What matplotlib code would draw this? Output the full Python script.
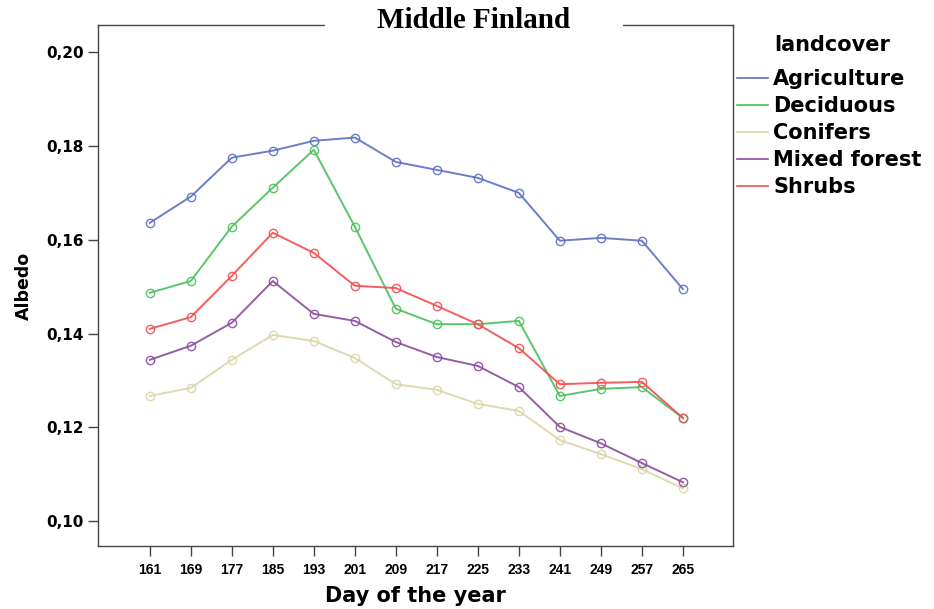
import matplotlib
matplotlib.use("Agg")
import matplotlib.pyplot as plt
from matplotlib.ticker import FuncFormatter

# albedo by day of year for each land cover class
days = [161, 169, 177, 185, 193, 201, 209, 217, 225, 233, 241, 249, 257, 265]

agriculture = [0.1636, 0.1692, 0.1775, 0.1790, 0.1811, 0.1818, 0.1766,
               0.1749, 0.1732, 0.1700, 0.1598, 0.1604, 0.1598, 0.1495]
deciduous = [0.1487, 0.1512, 0.1628, 0.1711, 0.1792, 0.1628, 0.1453,
             0.1420, 0.1420, 0.1427, 0.1267, 0.1282, 0.1286, 0.1220]
conifers = [0.1267, 0.1284, 0.1344, 0.1397, 0.1384, 0.1348, 0.1292,
            0.1280, 0.1250, 0.1235, 0.1173, 0.1143, 0.1111, 0.1070]
mixed_forest = [0.1344, 0.1374, 0.1423, 0.1512, 0.1442, 0.1427, 0.1382,
                0.1350, 0.1331, 0.1286, 0.1201, 0.1166, 0.1124, 0.1083]
shrubs = [0.1410, 0.1435, 0.1523, 0.1615, 0.1572, 0.1502, 0.1497,
          0.1459, 0.1420, 0.1369, 0.1292, 0.1295, 0.1297, 0.1220]

labels = ["Agriculture", "Deciduous", "Conifers", "Mixed forest", "Shrubs"]
series = [agriculture, deciduous, conifers, mixed_forest, shrubs]
colors = ["#5b70c4", "#48c05a", "#dbd5a6", "#8a4c9c", "#f24e50"]

fig = plt.figure(figsize=(9.34, 6.09), dpi=100)
ax = fig.add_axes([0.1049, 0.1034, 0.68, 0.8556])

handles = []
for vals, col, lab in zip(series, colors, labels):
    ax.plot(days, vals, color=col, lw=1.4, alpha=0.9, marker="o", ms=6,
            mfc="none", mec=col, mew=1.0)
    h, = ax.plot([], [], color=col, lw=1.2, label=lab)
    handles.append(h)

ax.set_xlim(150.9, 274.8)
ax.set_ylim(0.0947, 0.2058)
ax.set_xticks(days)
ax.set_yticks([0.10, 0.12, 0.14, 0.16, 0.18, 0.20])
ax.yaxis.set_major_formatter(FuncFormatter(lambda v, p: f"{v:.2f}".replace(".", ",")))

for s in ax.spines.values():
    s.set_color("#444444")
    s.set_linewidth(1.0)
ax.tick_params(axis="both", direction="out", length=7, width=1.0, color="#444444")
ax.tick_params(axis="x", pad=5)
for t in ax.get_xticklabels():
    t.set_fontweight("bold")
    t.set_fontsize(10)
    t.set_family("Liberation Sans")
for t in ax.get_yticklabels():
    t.set_fontweight("bold")
    t.set_fontsize(11)
    t.set_family("DejaVu Sans")

ax.set_xlabel("Day of the year", fontsize=15, fontweight="bold",
              family="DejaVu Sans", labelpad=7)
ax.set_ylabel("Albedo", fontsize=12.5, fontweight="bold",
              family="DejaVu Sans", labelpad=9)

# title sits on the top border, with a gap cut out of the border behind it
fig.text(0.5075, 0.967, "Middle Finland", ha="center", va="center",
         fontsize=21, fontweight="bold", family="Liberation Serif")
ax.plot([0.361, 0.824], [1, 1], transform=ax.transAxes, color="white",
        lw=3, clip_on=False, zorder=5)

# legend title drawn separately so its gap to the entries can be set
fig.text(0.891, 0.926, "landcover", ha="center", va="center",
         fontsize=15, fontweight="bold", family="DejaVu Sans")
leg = fig.legend(handles=handles, loc="upper left",
                 bbox_to_anchor=(0.7687, 0.917), frameon=False,
                 handlelength=1.5, handletextpad=0.25, labelspacing=0.33,
                 prop=dict(family="DejaVu Sans", weight="bold", size=15))

fig.savefig("out.png", dpi=100)
